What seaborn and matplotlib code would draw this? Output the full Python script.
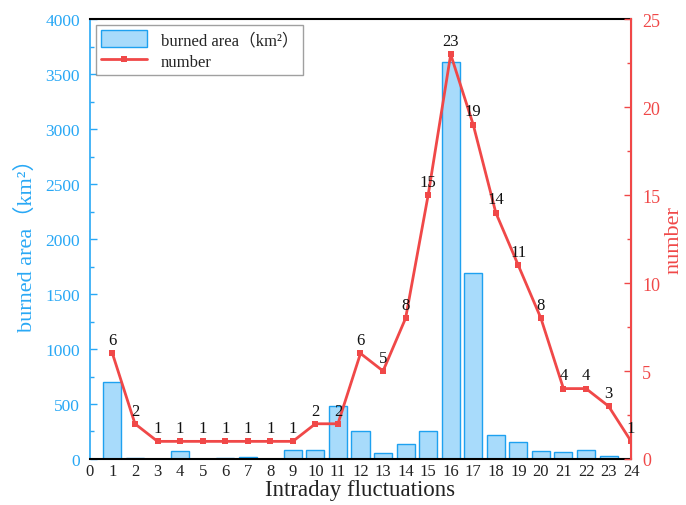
import matplotlib
matplotlib.use("Agg")
import matplotlib.pyplot as plt
import seaborn as sns
import pandas as pd
from matplotlib.ticker import MultipleLocator

hours = list(range(1, 25))
burned_area = [700, 5, 0, 70, 0, 5, 20, 0, 85, 85, 480, 250, 50, 140, 255,
               3610, 1690, 220, 150, 70, 60, 85, 30, 0]
fire_number = [6, 2, 1, 1, 1, 1, 1, 1, 1, 2, 2, 6, 5, 8, 15, 23, 19, 14, 11, 8, 4, 4, 3, 1]
xticks = list(range(0, 25))

df = pd.DataFrame({"hour": hours, "area": burned_area, "num": fire_number})

sns.set_style("white")
fam = ['Liberation Serif', 'Noto Sans CJK SC', 'DejaVu Sans']
plt.rcParams['font.family'] = fam

blue = "#29a8f5"
red = "#f04848"
area_label = "burned area\uff08km\u00b2\uff09"

fig = plt.figure(figsize=(6.86, 5.06), dpi=100)
ax = fig.add_axes([0.131, 0.091, 0.789, 0.869])

sns.barplot(data=df, x="hour", y="area", native_scale=True, ax=ax,
            color="#a8dbfb", edgecolor="#1ea1f0", linewidth=1, width=0.8,
            saturation=1, label=area_label)
if ax.get_legend():
    ax.get_legend().remove()
ax.set_xlim(0, 24)
ax.set_ylim(0, 4000)
ax.set_xticks(xticks)
ax.set_xticklabels([str(t) for t in xticks])
ax.yaxis.set_major_locator(MultipleLocator(500))
ax.yaxis.set_minor_locator(MultipleLocator(250))
ax.tick_params(axis='x', direction='in', length=4, width=1, colors='black', labelsize=12, pad=3)
ax.tick_params(axis='x', labelcolor='#222222')
ax.tick_params(axis='y', which='major', direction='in', length=5, width=1, colors=blue, labelsize=12.5, pad=7)
ax.tick_params(axis='y', which='minor', direction='in', length=3, width=1, colors=blue)
ax.set_xlabel("Intraday fluctuations", fontsize=16.5, color='#222222', labelpad=0)
ax.set_ylabel(area_label, fontsize=16, color=blue, labelpad=6)
ax.spines['left'].set_color(blue)
ax.spines['left'].set_linewidth(1.2)
ax.spines['bottom'].set_color('black')
ax.spines['bottom'].set_linewidth(1.5)
ax.spines['top'].set_color('black')
ax.spines['top'].set_linewidth(1.5)

ax2 = ax.twinx()
sns.lineplot(data=df, x="hour", y="num", ax=ax2, color=red, linewidth=2,
             marker='s', markersize=5, markeredgewidth=0, label="number")
ax2.set_ylim(0, 25)
ax2.set_xlim(0, 24)
ax2.yaxis.set_major_locator(MultipleLocator(5))
ax2.yaxis.set_minor_locator(MultipleLocator(2.5))
ax2.tick_params(axis='y', which='major', direction='in', length=5, width=1, colors=red, labelsize=13, pad=8)
ax2.tick_params(axis='y', which='minor', direction='in', length=3, width=1, colors=red)
ax2.set_ylabel("number", fontsize=16, color=red, labelpad=3)
ax2.spines['right'].set_color(red)
ax2.spines['right'].set_linewidth(1.5)
ax2.spines['left'].set_visible(False)
ax2.spines['top'].set_visible(False)
ax2.spines['bottom'].set_visible(False)

for h, n in zip(hours, fire_number):
    ax2.text(h, n + 0.3, str(n), ha='center', va='bottom', fontsize=12, color='#111111', clip_on=False)

h1, l1 = ax.get_legend_handles_labels()
h2, l2 = ax2.get_legend_handles_labels()
if ax2.get_legend():
    ax2.get_legend().remove()
leg = ax2.legend(h1 + h2, l1 + l2, loc='upper left', bbox_to_anchor=(0.0, 1.0),
                 fontsize=12, frameon=True, fancybox=False, edgecolor='#888888',
                 borderaxespad=0.35, handlelength=2.8, handleheight=1.2,
                 borderpad=0.3, labelspacing=0.2)
leg.get_frame().set_linewidth(1)

fig.savefig("out.png", dpi=100)
